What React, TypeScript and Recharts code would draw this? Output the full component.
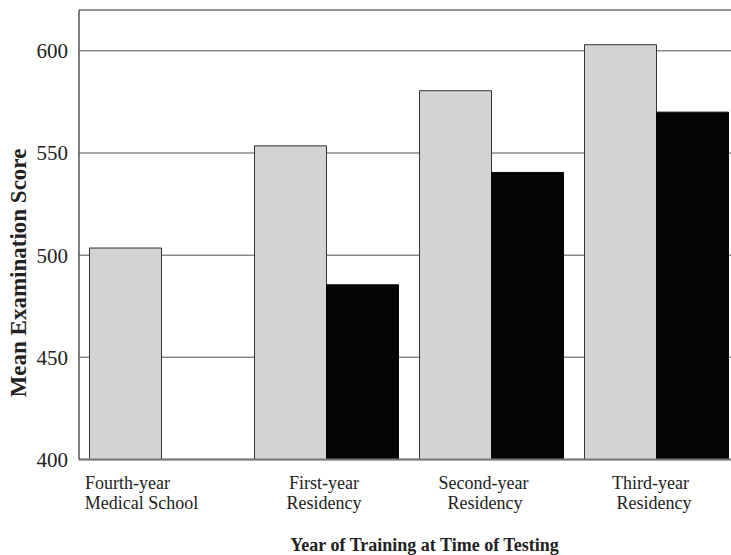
import React from "react";
import { BarChart, Bar, XAxis, YAxis, CartesianGrid, ReferenceLine } from "recharts";

const categories = ["Fourth-year\nMedical School", "First-year\nResidency", "Second-year\nResidency", "Third-year\nResidency"];
const graySeries = [503.5, 553.5, 580.5, 603];
const blackSeries = [null, 485.5, 540.5, 570];
const yTicks = [400, 450, 500, 550, 600];
const yDomain = [400, 620];

const data = categories.map((c, i) => ({ category: c, gray: graySeries[i], black: blackSeries[i] }));

const FONT = "'Liberation Serif', 'Times New Roman', serif";
const lineOffsets = [[-34, -20], [-2.5, -2.5], [-8, -6.5], [-6, -2.5]];

const CategoryTick = (props: any) => {
  const { x, y, payload } = props;
  const idx = categories.indexOf(payload.value);
  const lines = String(payload.value).split("\n");
  const offs = lineOffsets[idx] || [0, 0];
  return (
    <g>
      {lines.map((ln, i) => (
        <text key={i} x={x + offs[i]} y={y + 29 + i * 20.5} textAnchor="middle" fontFamily={FONT} fontSize={18} fill="#222">
          {ln}
        </text>
      ))}
    </g>
  );
};

const XTitle = (props: any) => {
  const vb = props.viewBox || { x: 79, y: 459.5 };
  return (
    <text x={vb.x + 345.5} y={vb.y + 91.5} textAnchor="middle" fontFamily={FONT} fontSize={18} fontWeight="bold" fill="#222">
      Year of Training at Time of Testing
    </text>
  );
};

const YTitle = () => (
  <text x={18.5} y={273} transform="rotate(-90, 18.5, 273)" textAnchor="middle" dominantBaseline="central" fontFamily={FONT} fontSize={23} fontWeight="bold" fill="#222">
    Mean Examination Score
  </text>
);

export default function App() {
  return (
    <div style={{ position: "absolute", left: 0, top: 0, width: 731, height: 555, overflow: "hidden", background: "#fff" }}>
      <BarChart width={740} height={555} data={data} margin={{ top: 10, right: 1, bottom: 0, left: 0 }} barCategoryGap={10.5} barGap={0}>
        <CartesianGrid vertical={false} stroke="#8a8a8a" strokeWidth={1.5} />
        <ReferenceLine y={620} stroke="#8a8a8a" strokeWidth={1.5} ifOverflow="visible" />
        <XAxis
          dataKey="category"
          interval={0}
          tickLine={false}
          tickSize={0}
          tickMargin={0}
          height={95.5}
          axisLine={{ stroke: "#777", strokeWidth: 2 }}
          tick={<CategoryTick />}
          label={<XTitle />}
        />
        <YAxis
          domain={yDomain}
          ticks={yTicks}
          width={79}
          tickLine={false}
          tickSize={0}
          tickMargin={11}
          axisLine={{ stroke: "#555", strokeWidth: 1.5 }}
          tick={{ fontFamily: FONT, fontSize: 21, fill: "#222" }}
          allowDataOverflow
          label={<YTitle />}
        />
        <Bar dataKey="gray" fill="#d3d3d3" stroke="#333" strokeWidth={1} isAnimationActive={false} />
        <Bar dataKey="black" fill="#050505" stroke="#050505" strokeWidth={1} isAnimationActive={false} />
      </BarChart>
    </div>
  );
}
